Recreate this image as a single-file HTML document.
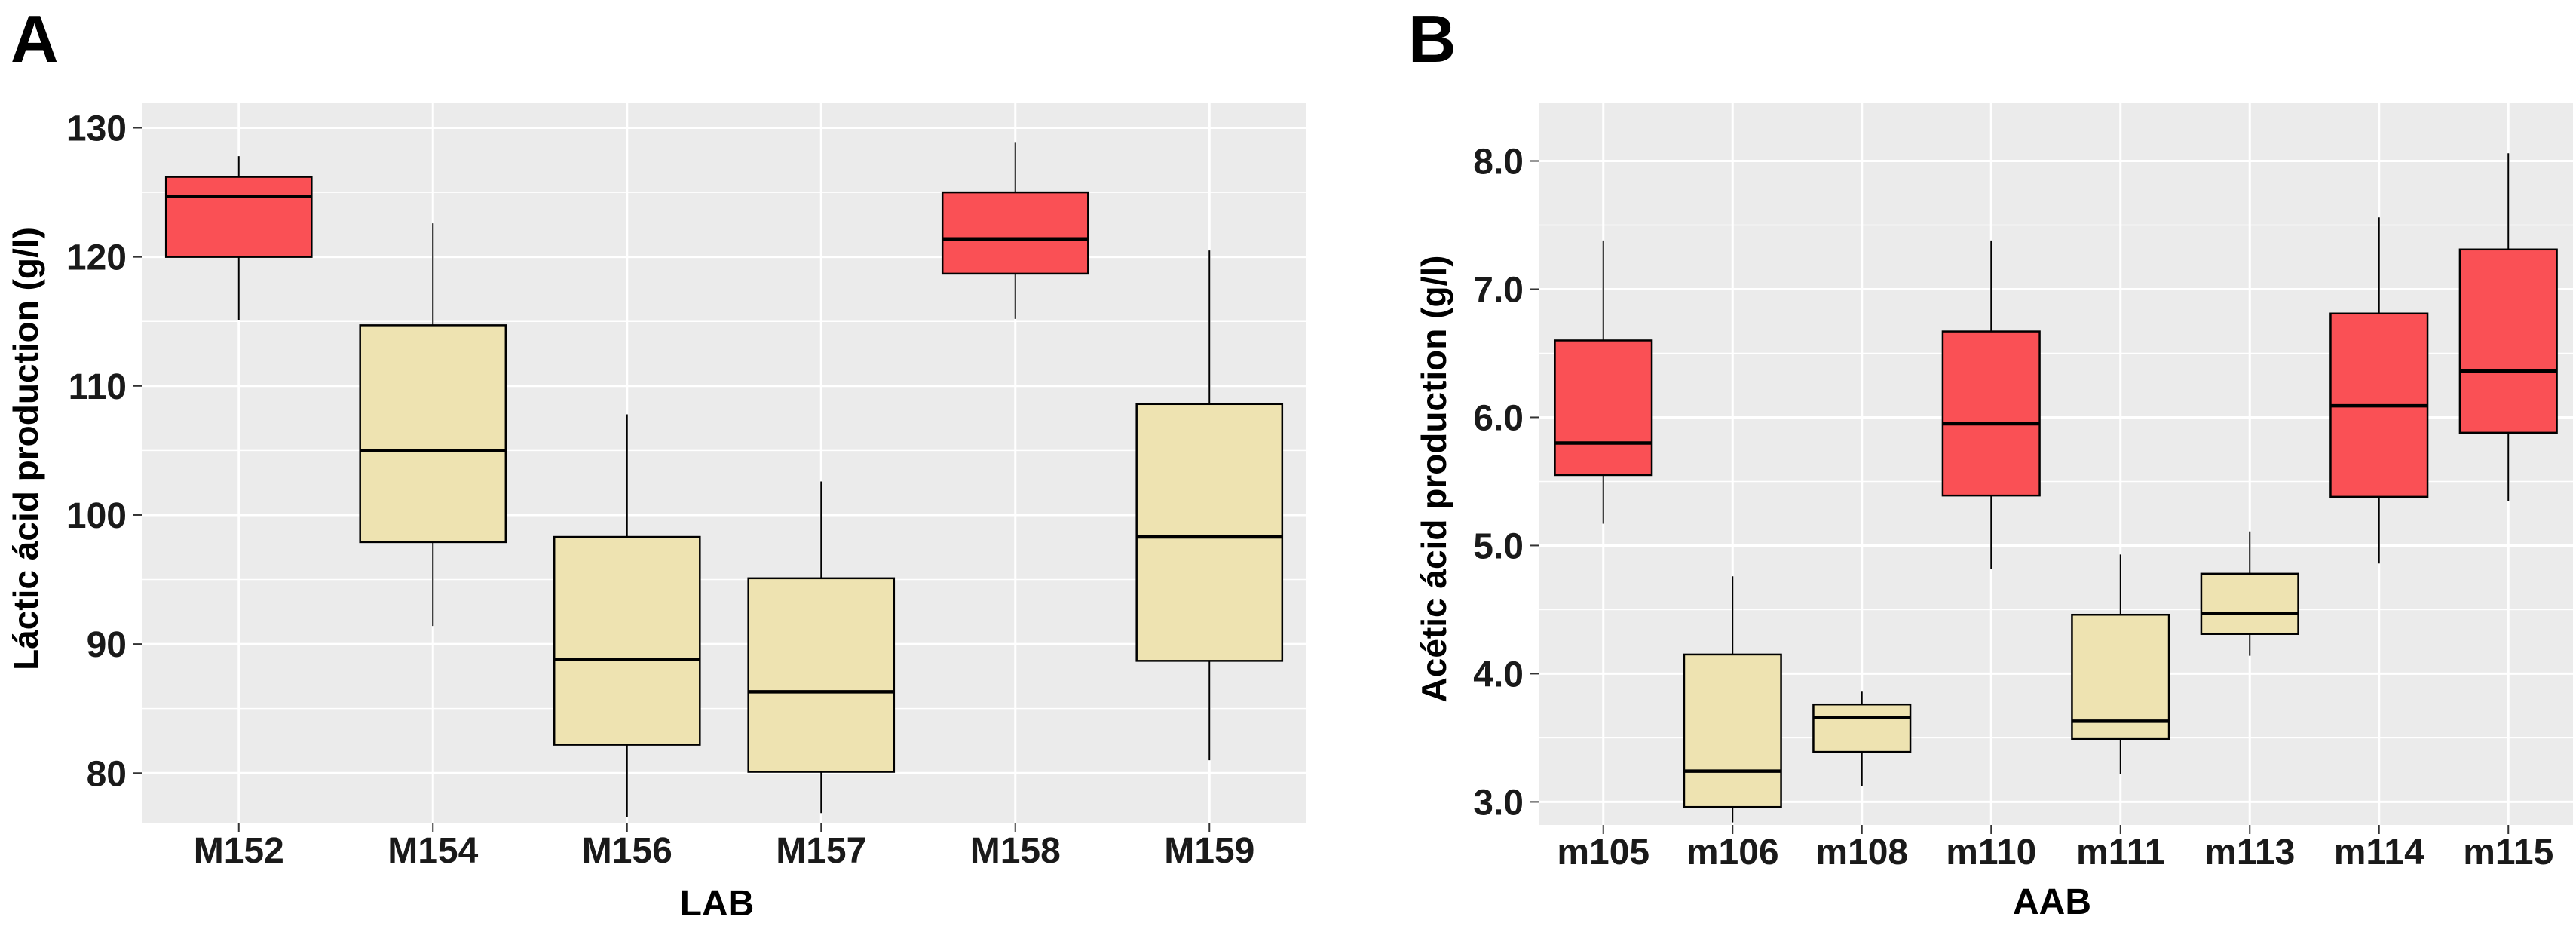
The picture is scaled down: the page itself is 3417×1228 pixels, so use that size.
<!DOCTYPE html>
<html><head><meta charset="utf-8"><style>
html,body{margin:0;padding:0;background:#fff;}
svg{display:block;font-family:"Liberation Sans",sans-serif;font-weight:bold;}
</style></head><body>
<svg id="chart" width="3417" height="1228" viewBox="0 0 3417 1228" xmlns="http://www.w3.org/2000/svg">
<text x="14" y="82" font-size="88">A</text>
<text x="1868" y="82" font-size="88">B</text>
<g id="pa"></g>
<g id="pb"></g>
</svg>
<script>
const catsA=["M152","M154","M156","M157","M158","M159"];
const minA=[115.1,91.4,76.6,76.9,115.2,81.0];
const q1A=[120.0,97.9,82.2,80.1,118.7,88.7];
const medA=[124.7,105.0,88.8,86.3,121.4,98.3];
const q3A=[126.2,114.7,98.3,95.1,125.0,108.6];
const maxA=[127.8,122.6,107.8,102.6,128.9,120.5];
const highA=[true,false,false,false,true,false];
const ticksA=[80,90,100,110,120,130];
const tickLabA=["80","90","100","110","120","130"];

const catsB=["m105","m106","m108","m110","m111","m113","m114","m115"];
const minB=[5.17,2.84,3.12,4.82,3.22,4.14,4.86,5.35];
const q1B=[5.55,2.96,3.39,5.39,3.49,4.31,5.38,5.88];
const medB=[5.80,3.24,3.66,5.95,3.63,4.47,6.09,6.36];
const q3B=[6.60,4.15,3.76,6.67,4.46,4.78,6.81,7.31];
const maxB=[7.38,4.76,3.86,7.38,4.93,5.11,7.56,8.06];
const highB=[true,false,false,true,false,false,true,true];
const ticksB=[3,4,5,6,7,8];
const tickLabB=["3.0","4.0","5.0","6.0","7.0","8.0"];

const NS="http://www.w3.org/2000/svg";
function mk(parent,tag,attrs){const e=document.createElementNS(NS,tag);for(const k in attrs)e.setAttribute(k,attrs[k]);parent.appendChild(e);return e;}

function panel(g,o){
  const y=v=>o.bottom-(v-o.ymin)/(o.ymax-o.ymin)*(o.bottom-o.top);
  const step=(o.right-o.left)/o.cats.length;
  const x=i=>o.left+step*(i+0.5);
  const bg=mk(g,"rect",{x:o.left,y:o.top,width:o.right-o.left,height:o.bottom-o.top,fill:"#EBEBEB"});
  
  
  const td=o.ticks[1]-o.ticks[0];
  for(let i=0;i<=o.ticks.length;i++){
    const v=o.ticks[0]+td*(i-0.5);
    if(v>o.ymin&&v<o.ymax){const l=mk(g,"line",{x1:o.left,x2:o.right,y1:y(v),y2:y(v),stroke:"#fff","stroke-width":1.5});
    
    }
  }
  o.ticks.forEach((t,i)=>{
    const l=mk(g,"line",{x1:o.left,x2:o.right,y1:y(t),y2:y(t),stroke:"#fff","stroke-width":3});
    
    
    const tk=mk(g,"line",{x1:o.left-12,x2:o.left,y1:y(t),y2:y(t),stroke:"#333","stroke-width":2});
    
    
    const tx=mk(g,"text",{x:o.left-20,y:y(t)+17,"text-anchor":"end","font-size":48,fill:"#1a1a1a"});
    tx.textContent=o.tickLab[i];
    
    
  });
  o.cats.forEach((c,i)=>{
    const l=mk(g,"line",{x1:x(i),x2:x(i),y1:o.top,y2:o.bottom,stroke:"#fff","stroke-width":3});
    
    
  });
  o.cats.forEach((c,i)=>{
    const bw=step*0.75,cx=x(i);
    const w=mk(g,"line",{x1:cx,x2:cx,y1:y(o.max[i]),y2:y(o.min[i]),stroke:"#000","stroke-width":2});
    
    
    const b=mk(g,"rect",{x:cx-bw/2,y:y(o.q3[i]),width:bw,height:y(o.q1[i])-y(o.q3[i]),fill:o.high[i]?"#FA5055":"#EEE3B1",stroke:"#000","stroke-width":2.5});
    
    
    const m=mk(g,"line",{x1:cx-bw/2,x2:cx+bw/2,y1:y(o.med[i]),y2:y(o.med[i]),stroke:"#000","stroke-width":4.5});
    
    
    const tk=mk(g,"line",{x1:cx,x2:cx,y1:o.bottom,y2:o.bottom+12,stroke:"#333","stroke-width":2});
    
    
    const t=mk(g,"text",{x:cx,y:o.bottom+52,"text-anchor":"middle","font-size":48,fill:"#1a1a1a"});
    t.textContent=c;
    
    
  });
  const xt=mk(g,"text",{x:o.xtx,y:o.xty,"text-anchor":"middle","font-size":48,fill:"#000"});
  xt.textContent=o.xtitle;
  
  
  const yt=mk(g,"text",{x:0,y:0,"text-anchor":"middle","font-size":46,fill:"#000",transform:`translate(${o.ytx},${o.yty}) rotate(-90)`});
  yt.textContent=o.ytitle;
  
  
}
panel(document.getElementById("pa"),{left:188,right:1733,top:137,bottom:1092,ymin:76.1,ymax:131.9,
  cats:catsA,min:minA,q1:q1A,med:medA,q3:q3A,max:maxA,high:highA,ticks:ticksA,tickLab:tickLabA,
  xtitle:"LAB",xtx:951,xty:1214,ytitle:"Láctic ácid production (g/l)",ytx:50,yty:595});
panel(document.getElementById("pb"),{left:2041,right:3413,top:137,bottom:1094,ymin:2.82,ymax:8.45,
  cats:catsB,min:minB,q1:q1B,med:medB,q3:q3B,max:maxB,high:highB,ticks:ticksB,tickLab:tickLabB,
  xtitle:"AAB",xtx:2722,xty:1212,ytitle:"Acétic ácid production (g/l)",ytx:1918,yty:635});
</script>
</body></html>
